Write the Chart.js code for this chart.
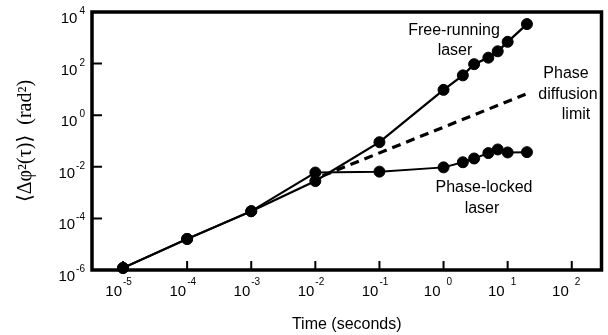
<!DOCTYPE html>
<html>
<head>
<meta charset="utf-8">
<script src="https://cdn.jsdelivr.net/npm/chart.js@4.4.0/dist/chart.umd.min.js"></script>
<style>
  html, body { margin: 0; padding: 0; background: #fff; }
  #wrap { width: 608px; height: 335px; position: relative; }
</style>
</head>
<body>
<div id="wrap"><canvas id="myChart"></canvas></div>
<script>
// values (time in seconds, phase variance in rad^2)
var freeX = [1e-5, 1e-4, 1e-3, 1e-2, 0.1, 1, 2, 3, 5, 7, 10, 20];
var freeY = [1.2e-6, 1.6e-5, 1.9e-4, 2.8e-3, 0.09, 9.6, 35, 95, 170, 300, 700, 3400];

var lockX = [1e-5, 1e-4, 1e-3, 1e-2, 0.1, 1, 2, 3, 5, 7, 10, 20];
var lockY = [1.2e-6, 1.6e-5, 1.9e-4, 6e-3, 6.5e-3, 9.5e-3, 0.015, 0.021, 0.034, 0.047, 0.036, 0.037];

var diffX = [0.013, 19];
var diffY = [0.0045, 6.5];

var xExponents = [-5, -4, -3, -2, -1, 0, 1, 2];
var yExponents = [4, 2, 0, -2, -4, -6];

var xTitle = 'Time (seconds)';
var yTitle = '\u27E8\u0394\u03C6\u00B2(\u03C4)\u27E9  (rad\u00B2)';

var notes = [
  {text: 'Free-running', x: 454, y: 31},
  {text: 'laser', x: 455, y: 51},
  {text: 'Phase', x: 566, y: 74},
  {text: 'diffusion', x: 568, y: 95},
  {text: 'limit', x: 576, y: 115},
  {text: 'Phase-locked', x: 484, y: 188},
  {text: 'laser', x: 482, y: 209}
];

var toPoints = function(xs, ys){
  return xs.map(function(v, i){ return {x: v, y: ys[i]}; });
};

var SANS = '"Liberation Sans", Arial, Helvetica, sans-serif';

var framePlugin = {
  id: 'frame',
  afterDraw: function(chart){
    var ctx = chart.ctx;
    var a = chart.chartArea;
    var xs = chart.scales.x, ys = chart.scales.y;
    ctx.save();
    ctx.strokeStyle = '#000';
    ctx.fillStyle = '#000';
    ctx.lineWidth = 3.5;
    ctx.strokeRect(a.left, a.top, a.right - a.left, a.bottom - a.top);

    // inward tick marks
    ctx.lineWidth = 2;
    ctx.beginPath();
    xExponents.forEach(function(e){
      var px = xs.getPixelForValue(Math.pow(10, e));
      ctx.moveTo(px, a.bottom);
      ctx.lineTo(px, a.bottom - 9);
    });
    yExponents.forEach(function(e){
      var py = ys.getPixelForValue(Math.pow(10, e));
      ctx.moveTo(a.left, py);
      ctx.lineTo(a.left + 10, py);
    });
    ctx.stroke();

    // tick labels: 10 with a raised exponent
    ctx.textBaseline = 'alphabetic';
    xExponents.forEach(function(e){
      var px = xs.getPixelForValue(Math.pow(10, e));
      var baseRight = e < 0 ? px - 1 : px - 3;
      var expLeft = e < 0 ? px : px + 3;
      ctx.font = '15px ' + SANS;
      ctx.textAlign = 'right';
      ctx.fillText('10', baseRight, a.bottom + 26);
      ctx.font = '10px ' + SANS;
      ctx.textAlign = 'left';
      ctx.fillText(String(e), expLeft, a.bottom + 15);
    });
    yExponents.forEach(function(e){
      var py = ys.getPixelForValue(Math.pow(10, e));
      var expRight = a.left - 7;
      ctx.font = '10px ' + SANS;
      ctx.textAlign = 'right';
      ctx.fillText(String(e), expRight, py + 2);
      var w = ctx.measureText(String(e)).width;
      ctx.font = '15px ' + SANS;
      ctx.fillText('10', expRight - w - (e < 0 ? 1 : 2), py + 11);
    });

    // labels next to the curves
    ctx.font = '16px ' + SANS;
    ctx.textAlign = 'center';
    ctx.textBaseline = 'middle';
    notes.forEach(function(n){
      ctx.fillText(n.text, n.x, n.y);
    });
    ctx.restore();
  }
};

var ctx = document.getElementById('myChart').getContext('2d');
var chart = new Chart(ctx, {
  type: 'scatter',
  data: {
    datasets: [
      {
        label: 'Phase diffusion limit',
        data: toPoints(diffX, diffY),
        showLine: true,
        borderColor: '#000',
        borderWidth: 3.2,
        borderDash: [9, 6],
        pointRadius: 0,
        clip: false
      },
      {
        label: 'Phase-locked laser',
        data: toPoints(lockX, lockY),
        showLine: true,
        borderColor: '#000',
        borderWidth: 2,
        backgroundColor: '#000',
        pointRadius: 5.5,
        pointBorderWidth: 1,
        clip: false
      },
      {
        label: 'Free-running laser',
        data: toPoints(freeX, freeY),
        showLine: true,
        borderColor: '#000',
        borderWidth: 2.3,
        backgroundColor: '#000',
        pointRadius: 5.5,
        pointBorderWidth: 1,
        clip: false
      }
    ]
  },
  options: {
    responsive: true,
    maintainAspectRatio: false,
    animation: false,
    layout: { padding: { top: 12, right: 2, bottom: 0, left: 0 } },
    plugins: {
      legend: { display: false },
      tooltip: { enabled: false }
    },
    scales: {
      x: {
        type: 'logarithmic',
        min: Math.pow(10, -5.484),
        max: Math.pow(10, 2.464),
        grid: { display: false },
        border: { display: false },
        ticks: { display: false },
        afterFit: function(scale){ scale.height = 65; },
        title: {
          display: true,
          text: xTitle,
          color: '#000',
          font: { family: SANS, size: 16 },
          padding: { top: 0, bottom: 1 }
        }
      },
      y: {
        type: 'logarithmic',
        min: 1e-6,
        max: 1e4,
        grid: { display: false },
        border: { display: false },
        ticks: { display: false },
        afterFit: function(scale){ scale.width = 92; },
        title: {
          display: true,
          text: yTitle,
          color: '#000',
          font: { family: '"Liberation Serif", "DejaVu Serif", serif', size: 20 },
          padding: { top: 14, bottom: 0 }
        }
      }
    }
  },
  plugins: [framePlugin]
});
</script>
</body>
</html>
